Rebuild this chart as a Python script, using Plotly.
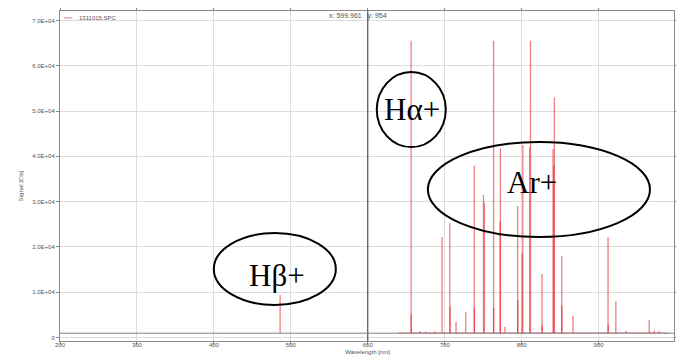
import plotly.graph_objects as go

# ---- data ----
peak_nm = [486.1, 656.3, 656.5, 667.7, 675.3, 687.1, 696.5, 706.7, 706.9, 714.7,
           727.3, 738.4, 738.6, 750.4, 751.5, 763.5, 763.7, 772.0, 772.4, 778.2,
           794.8, 795.0, 800.6, 801.5, 810.4, 811.5, 826.5, 826.7, 840.8, 841.8,
           842.5, 852.1, 852.3, 866.8, 912.3, 912.5, 922.4, 935.4, 965.8, 972.5, 978.5]
peak_cts = [9400, 65500, 5000, 1400, 1300, 1300, 22200, 25200, 6800, 3500,
            5700, 37900, 6600, 31500, 29700, 65500, 6500, 25600, 41800, 2400,
            29000, 8300, 18600, 42500, 42000, 65500, 14000, 2800, 41600, 38000,
            53000, 18000, 7000, 4800, 22200, 2800, 8000, 1500, 3900, 1500, 1500]
baseline_nm = [640, 990]
baseline_cts = [1000, 1000]

cursor_x = 599.961
cursor_y = 954

x_ticks = [200, 300, 400, 500, 600, 700, 800, 900]
y_ticks = [0, 10000, 20000, 30000, 40000, 50000, 60000, 70000]
y_ticktext = ["0", "1.0E+04", "2.0E+04", "3.0E+04", "4.0E+04", "5.0E+04", "6.0E+04", "7.0E+04"]

# ---- build vertical-line segments for the spectrum ----
seg_x, seg_y = [], []
for w, c in zip(peak_nm, peak_cts):
    seg_x += [w, w, None]
    seg_y += [baseline_cts[0], c, None]

RED = "rgba(226,20,30,0.55)"

fig = go.Figure()
fig.add_trace(go.Scatter(x=baseline_nm, y=baseline_cts, mode="lines",
                         line=dict(color=RED, width=1), hoverinfo="skip", showlegend=False))
fig.add_trace(go.Scatter(x=seg_x, y=seg_y, mode="lines", name="1311015.SPC",
                         line=dict(color=RED, width=1.3), showlegend=False))

# crosshair cursor
fig.add_shape(type="line", xref="x", yref="paper", x0=cursor_x, x1=cursor_x, y0=0, y1=1,
              line=dict(color="#555555", width=1.2))
fig.add_shape(type="line", xref="paper", yref="y", x0=0, x1=1, y0=cursor_y, y1=cursor_y,
              line=dict(color="#808080", width=1))

# callout ellipses
fig.add_shape(type="circle", xref="x", yref="y", x0=399.9, x1=558.5, y0=7170, y1=23070,
              line=dict(color="black", width=2))
fig.add_shape(type="circle", xref="x", yref="y", x0=611.7, x1=701.4, y0=42030, y1=58600,
              line=dict(color="black", width=2))
fig.add_shape(type="circle", xref="x", yref="y", x0=678.1, x1=966.8, y0=22190, y1=43160,
              line=dict(color="black", width=2))

serif = dict(family="Liberation Serif, Times New Roman, serif", size=31, color="black")
fig.add_annotation(x=481.6, y=13800, xref="x", yref="y", text="Hβ+", showarrow=False, font=serif)
fig.add_annotation(x=657.0, y=50440, xref="x", yref="y", text="Hα+", showarrow=False, font=serif)
fig.add_annotation(x=813.4, y=34330, xref="x", yref="y", text="Ar+", showarrow=False, font=serif)

small = dict(family="Liberation Sans, Arial, sans-serif", size=6, color="#555555")

# legend (drawn manually, small)
fig.add_shape(type="line", xref="paper", yref="paper", x0=0.007, x1=0.02, y0=0.979, y1=0.979,
              line=dict(color="rgba(230,90,110,0.8)", width=1))
fig.add_annotation(x=0.028, y=0.979, xref="paper", yref="paper", xanchor="left", yanchor="middle",
                   text="1311015.SPC", showarrow=False, font=small)

# cursor readout
fig.add_annotation(x=0.486, y=0.986, xref="paper", yref="paper", xanchor="center", yanchor="middle",
                   text="x: 599.961   y: 954", showarrow=False,
                   font=dict(family="Liberation Sans, Arial, sans-serif", size=7, color="#555555"))

# axis titles
fig.add_annotation(x=0.5, y=-0.034, xref="paper", yref="paper", xanchor="center", yanchor="middle",
                   text="Wavelength [nm]", showarrow=False, font=small)
fig.add_annotation(x=-0.063, y=0.47, xref="paper", yref="paper", xanchor="center", yanchor="middle",
                   text="Signal [Cts]", textangle=-90, showarrow=False, font=small)

fig.update_xaxes(range=[200, 998], tickvals=x_ticks, ticktext=[str(v) for v in x_ticks],
                 showgrid=True, gridcolor="#dcdcdc", gridwidth=1, zeroline=False,
                 showline=True, linecolor="#8a8a8a", linewidth=1, mirror="allticks",
                 ticks="outside", ticklen=3, tickcolor="#8a8a8a", tickfont=small,
                 automargin=False, ticklabelstandoff=-5)
fig.update_yaxes(range=[-770, 72080], tickvals=y_ticks, ticktext=y_ticktext,
                 showgrid=True, gridcolor="#dcdcdc", gridwidth=1, zeroline=False,
                 showline=True, linecolor="#8a8a8a", linewidth=1, mirror="allticks",
                 ticks="outside", ticklen=3, tickcolor="#8a8a8a", tickfont=small,
                 automargin=False)

# page body has an 8px default margin, so the figure is sized to fit the 684x356 window
fig.update_layout(width=676, height=348, margin=dict(l=52, r=10, t=3, b=15),
                  paper_bgcolor="white", plot_bgcolor="white", showlegend=False)

fig.write_html("out.html")
